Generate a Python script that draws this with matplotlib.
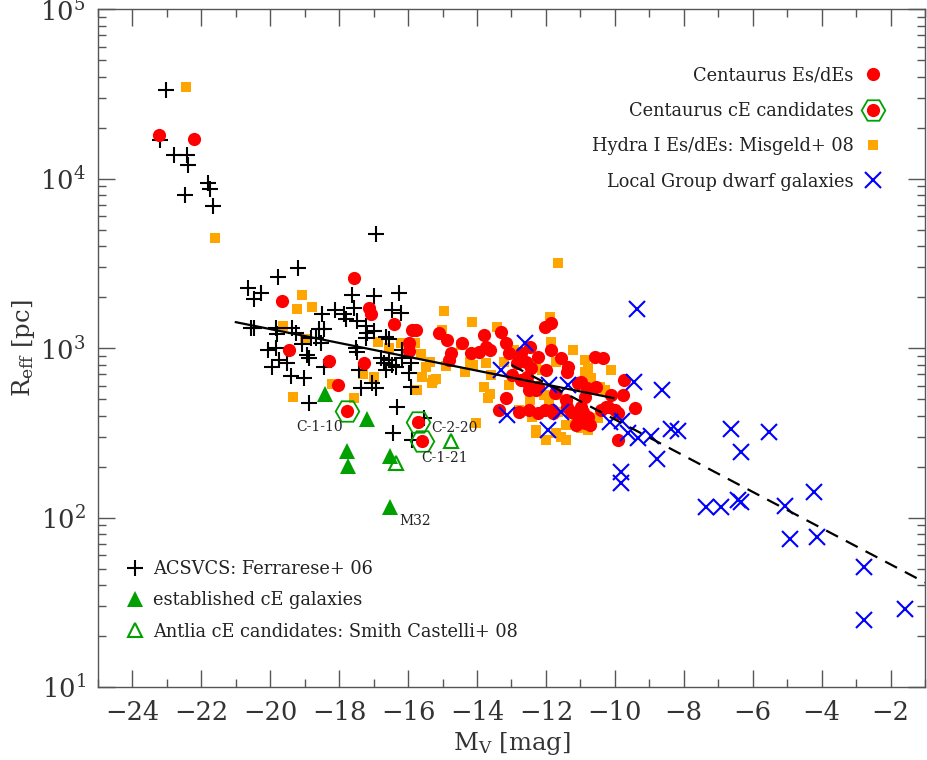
import numpy as np
import matplotlib
matplotlib.use("Agg")
import matplotlib.pyplot as plt
from matplotlib.ticker import LogLocator, MultipleLocator, NullFormatter
from matplotlib.legend_handler import HandlerTuple

plt.rcParams["font.family"] = ["DejaVu Serif"]
plt.rcParams["mathtext.fontset"] = "dejavuserif"

# ACSVCS: Ferrarese+ 06 (black crosses)
acs_mv = [-23.03, -23.20, -22.80, -22.42, -22.39, -21.82, -21.76, -22.48, -21.65, -16.93,
          -19.19, -19.77, -20.66, -20.26, -20.46, -17.62, -16.99, -16.27, -16.47, -16.21,
          -17.57, -18.11, -18.49, -17.86, -17.80, -17.48, -17.22, -17.19, -16.99, -17.22,
          -16.64, -16.56, -20.55, -20.46, -19.82, -19.36, -19.24, -19.80, -18.58, -18.44,
          -18.66, -18.52, -18.81, -20.08, -19.82, -19.74, -19.94, -19.50, -18.93, -18.87,
          -19.07, -17.51, -17.48, -16.78, -16.70, -16.56, -16.47, -16.64, -16.35, -16.18,
          -15.92, -15.98, -15.92, -16.18, -19.39, -19.01, -18.87, -18.43, -17.42, -17.04,
          -16.93, -17.36, -16.32, -16.44, -15.89, -15.54]
acs_re = [33270, 16880, 13770, 13770, 12020, 9400, 8670, 8000, 6890, 4710,
          2964, 2624, 2260, 2110, 1945, 2055, 2028, 2110, 1675, 1607,
          1722, 1675, 1588, 1588, 1483, 1442, 1349, 1225, 1259, 1146,
          1161, 1130, 1312, 1312, 1312, 1312, 1225, 1210, 1294, 1294,
          1146, 1071, 1146, 973, 1000, 849, 773, 816, 908, 873,
          1057, 1000, 946, 873, 816, 849, 794, 741, 773, 873,
          816, 713, 589, 973, 684, 665, 474, 773, 741, 622,
          581, 581, 449, 316, 287, 386]

# Hydra I Es/dEs: Misgeld+ 08 (orange squares)
hyd_mv = [-22.45, -21.61, -19.07, -19.21, -18.78, -19.62, -18.98, -19.33, -18.20, -17.57,
          -17.31, -16.99, -16.88, -16.56, -16.21, -15.81, -15.64, -15.49, -15.61, -15.32,
          -15.20, -15.74, -14.96, -15.01, -14.15, -13.43, -11.84, -11.87, -15.35, -14.34,
          -14.19, -13.59, -13.62, -12.94, -12.73, -12.30, -12.12, -11.72, -10.86, -10.77,
          -10.68, -11.64, -11.36, -12.45, -12.79, -12.41, -12.30, -11.72, -11.43, -12.01,
          -11.43, -10.99, -10.77, -10.48, -14.04, -11.66, -14.46, -13.80, -12.07, -10.30,
          -13.08, -13.23, -10.12, -11.21, -14.90, -13.75, -15.29, -14.12, -13.68, -10.86,
          -10.42, -11.90, -11.64, -12.30, -11.56, -11.14]
hyd_re = [34670, 4457, 2070, 1698, 1746, 1349, 1130, 514, 614, 507,
          703, 675, 1084, 1000, 1071, 1071, 922, 773, 675, 622,
          656, 565, 1652, 1277, 1422, 1330, 1084, 1524, 826, 721,
          826, 693, 536, 973, 946, 816, 741, 826, 849, 762,
          665, 528, 474, 494, 431, 392, 316, 316, 352, 287,
          287, 337, 328, 386, 361, 3170, 1040, 589, 528, 565,
          605, 826, 741, 973, 783, 816, 647, 794, 507, 721,
          589, 494, 419, 328, 299, 361]

# Centaurus Es/dEs (red circles)
cen_mv = [-23.24, -22.20, -17.57, -19.66, -17.14, -17.08, -16.42, -15.90, -15.78, -15.98,
          -15.96, -19.45, -18.29, -17.28, -18.02, -15.10, -14.87, -14.75, -14.81, -14.43,
          -14.17, -13.94, -13.80, -13.74, -13.31, -13.16, -13.08, -12.71, -12.45, -12.59,
          -12.42, -12.22, -12.02, -11.85, -11.85, -11.56, -11.36, -11.99, -12.71, -12.50,
          -12.22, -11.73, -11.06, -10.57, -10.34, -10.54, -10.86, -10.11, -9.76, -13.16,
          -13.37, -12.50, -12.22, -12.02, -11.26, -10.98, -10.86, -11.12, -10.72, -10.40,
          -10.19, -9.90, -9.90, -12.79, -11.79, -11.40, -11.06, -10.77, -10.25, -9.42,
          -9.73, -12.85, -12.56, -11.42, -12.99, -13.62, -12.79, -12.30, -12.50, -11.40,
          -10.99, -10.82, -9.99, -10.91, -11.83]
cen_re = [18070, 17100, 2588, 1893, 1720, 1588, 1387, 1277, 1277, 1071,
          960, 973, 838, 816, 605, 1225, 1114, 933, 849, 1071,
          933, 946, 1191, 1013, 1242, 1071, 933, 933, 1013, 826,
          762, 885, 1330, 1403, 973, 873, 773, 741, 647, 565,
          589, 543, 622, 885, 873, 589, 514, 528, 528, 507,
          431, 431, 414, 431, 419, 449, 361, 351, 351, 431,
          449, 414, 287, 419, 414, 449, 392, 392, 449, 443,
          647, 816, 675, 493, 693, 973, 849, 565, 605, 721,
          631, 581, 431, 419, 431]

# Centaurus cE candidates
cand_mv = [-17.77, -15.71, -15.60]
cand_re = [425, 366, 283]
cand_names = ["C-1-10", "C-2-20", "C-1-21"]

# Local Group dwarf galaxies (blue x)
lg_mv = [-13.31, -12.62, -13.14, -11.90, -11.35, -11.55, -11.93, -10.13, -9.80, -9.61,
         -9.32, -8.95, -8.37, -8.16, -6.63, -5.53, -6.34, -8.77, -9.81, -9.81,
         -9.35, -9.44, -8.63, -7.35, -6.92, -6.43, -6.34, -5.07, -4.23, -4.92,
         -4.14, -2.76, -2.76, -1.57]
lg_re = [741, 1070, 403, 605, 605, 419, 328, 366, 370, 316,
         295, 302, 333, 324, 333, 319, 243, 221, 185, 160,
         1700, 632, 565, 115, 115, 127, 124, 117, 141, 75,
         77, 51, 24.8, 29]

# established cE galaxies (M32 is the faintest one)
ce_mv = [-18.40, -17.19, -17.77, -17.74, -16.52, -16.52]
ce_re = [536, 381, 247, 201, 231, 115]

# Antlia cE candidates: Smith Castelli+ 08
ant_mv = [-16.35, -14.76]
ant_re = [210, 283]

# relations
fit_mv = [-21.0, -10.04]
fit_re = [1422, 507]
lg_fit_mv = [-13.0, -1.0]
lg_fit_re = [794, 41.4]

GREEN = "#00a000"
AXCOL = "#555555"

fig = plt.figure(figsize=(9.27, 7.6), dpi=100)
ax = fig.add_axes([0.1057, 0.096, 0.8921, 0.892])

h_hyd, = ax.plot(hyd_mv, hyd_re, "s", color="orange", ms=6.5, mew=0, zorder=2)
h_acs, = ax.plot(acs_mv, acs_re, "+", color="black", ms=11.5, mew=1.5, zorder=3)
h_cen, = ax.plot(cen_mv, cen_re, "o", color="red", ms=9.5, mew=0, zorder=4)
h_hex, = ax.plot(cand_mv, cand_re, "H", mfc="none", mec=GREEN, ms=17, mew=1.3, zorder=4)
h_cand, = ax.plot(cand_mv, cand_re, "o", color="red", ms=9.5, mew=0, zorder=4)
h_lg, = ax.plot(lg_mv, lg_re, "x", color="blue", ms=11.5, mew=1.5, zorder=5)
h_ce, = ax.plot(ce_mv, ce_re, "^", color=GREEN, ms=11, mew=0, zorder=5)
h_ant, = ax.plot(ant_mv, ant_re, "^", mfc="none", mec=GREEN, ms=10, mew=1.5, zorder=5)

ax.plot(fit_mv, fit_re, "-", color="black", lw=1.6, zorder=6)
ax.plot(lg_fit_mv, lg_fit_re, color="black", lw=1.6, ls=(0, (6, 4)), zorder=6)

lab_kw = dict(fontsize=10, va="center", color="#222222", zorder=7)
ax.text(-17.9, 342, cand_names[0], ha="right", **lab_kw)
ax.text(-15.32, 337, cand_names[1], ha="left", **lab_kw)
ax.text(-15.61, 224, cand_names[2], ha="left", **lab_kw)
ax.text(-16.24, 96, "M32", ha="left", **lab_kw)

ax.set_yscale("log")
ax.set_xlim(-25, -1)
ax.set_ylim(10, 1e5)

ax.xaxis.set_major_locator(MultipleLocator(2))
ax.xaxis.set_minor_locator(MultipleLocator(1))
ax.yaxis.set_major_locator(LogLocator(base=10, numticks=10))
ax.yaxis.set_minor_locator(LogLocator(base=10, subs=np.arange(2, 10), numticks=10))
ax.yaxis.set_minor_formatter(NullFormatter())

ax.tick_params(which="both", direction="in", top=True, right=True, color=AXCOL,
               labelsize=18.5, labelcolor="#333333")
ax.tick_params(which="major", length=12, width=1.0, pad=9)
ax.tick_params(which="minor", length=6, width=1.0)
for sp in ax.spines.values():
    sp.set_color(AXCOL)
    sp.set_linewidth(1.0)

ax.set_xlabel(r"M$_{\rm V}$ [mag]", fontsize=17.5, color="#333333", labelpad=4)
ax.set_ylabel(r"R$_{\rm eff}$ [pc]", fontsize=17.5, color="#333333", labelpad=2)

leg1 = ax.legend([h_cen, (h_hex, h_cand), h_hyd, h_lg],
                 ["Centaurus Es/dEs", "Centaurus cE candidates",
                  "Hydra I Es/dEs: Misgeld+ 08", "Local Group dwarf galaxies"],
                 handler_map={tuple: HandlerTuple(ndivide=1)},
                 loc="upper right", bbox_to_anchor=(0.958, 0.926), markerfirst=False,
                 frameon=False, numpoints=1, fontsize=12.8, labelspacing=0.98,
                 handlelength=1.1, handletextpad=0.55, borderaxespad=0)
for t in leg1.get_texts():
    t.set_color("#222222")
ax.add_artist(leg1)

leg2 = ax.legend([h_acs, h_ce, h_ant],
                 ["ACSVCS: Ferrarese+ 06", "established cE galaxies",
                  "Antlia cE candidates: Smith Castelli+ 08"],
                 loc="lower left", bbox_to_anchor=(0.025, 0.058), frameon=False,
                 numpoints=1, fontsize=12.8, labelspacing=0.75, handlelength=1.0,
                 handletextpad=0.55, borderaxespad=0)
for t in leg2.get_texts():
    t.set_color("#222222")

fig.savefig("out.png", dpi=100)
